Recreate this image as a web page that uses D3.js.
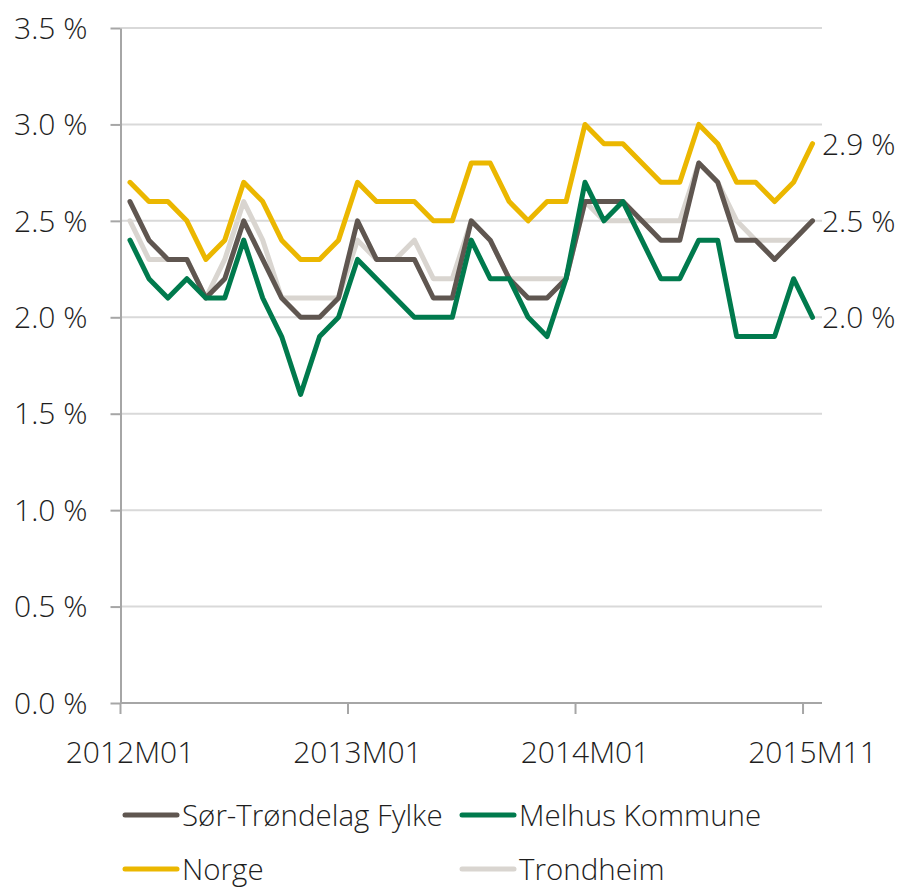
<!DOCTYPE html>
<html>
<head>
<meta charset="utf-8">
<script src="https://cdn.jsdelivr.net/npm/d3@7"></script>
<style>
  body { margin: 0; background: #fff; }
  text { font-family: "Open Sans", sans-serif; font-weight: 300; fill: #1e1e1e; }
</style>
</head>
<body>
<svg width="899" height="889"></svg>
<script>
// months shown, tick labels at every 12th month
const months = d3.range(37);
const tickIdx = [0, 12, 24, 36];
const tickLabels = ["2012M01", "2013M01", "2014M01", "2015M11"];
const yTicks = [0, 0.5, 1, 1.5, 2, 2.5, 3, 3.5];

const sorTrondelag = [2.6,2.4,2.3,2.3,2.1,2.2,2.5,2.3,2.1,2.0,2.0,2.1,
  2.5,2.3,2.3,2.3,2.1,2.1,2.5,2.4,2.2,2.1,2.1,2.2,
  2.6,2.6,2.6,2.5,2.4,2.4,2.8,2.7,2.4,2.4,2.3,2.4,2.5];
const melhus = [2.4,2.2,2.1,2.2,2.1,2.1,2.4,2.1,1.9,1.6,1.9,2.0,
  2.3,2.2,2.1,2.0,2.0,2.0,2.4,2.2,2.2,2.0,1.9,2.2,
  2.7,2.5,2.6,2.4,2.2,2.2,2.4,2.4,1.9,1.9,1.9,2.2,2.0];
const norge = [2.7,2.6,2.6,2.5,2.3,2.4,2.7,2.6,2.4,2.3,2.3,2.4,
  2.7,2.6,2.6,2.6,2.5,2.5,2.8,2.8,2.6,2.5,2.6,2.6,
  3.0,2.9,2.9,2.8,2.7,2.7,3.0,2.9,2.7,2.7,2.6,2.7,2.9];
const trondheim = [2.5,2.3,2.3,2.3,2.1,2.3,2.6,2.4,2.1,2.1,2.1,2.1,
  2.4,2.3,2.3,2.4,2.2,2.2,2.5,2.4,2.2,2.2,2.2,2.2,
  2.6,2.5,2.5,2.5,2.5,2.5,2.8,2.7,2.5,2.4,2.4,2.4,2.5];

const series = [
  { name: "Trondheim", values: trondheim, color: "#d9d5d0" },
  { name: "Sør-Trøndelag Fylke", values: sorTrondelag, color: "#5f5650" },
  { name: "Melhus Kommune", values: melhus, color: "#007a4d" },
  { name: "Norge", values: norge, color: "#ebb700" }
];
const endLabeled = ["Norge", "Trondheim", "Melhus Kommune"];

const svg = d3.select("svg");
const plotLeft = 120.5, plotRight = 822, plotTop = 28, plotBottom = 703;
const fs = 30;

const x = d3.scaleBand().domain(months).range([plotLeft, plotRight]);
const y = d3.scaleLinear().domain([0, 3.5]).range([plotBottom, plotTop]);

// gridlines
svg.append("g").selectAll("line")
  .data(yTicks.filter(d => d > 0))
  .enter().append("line")
  .attr("x1", plotLeft).attr("x2", plotRight)
  .attr("y1", d => y(d)).attr("y2", d => y(d))
  .attr("stroke", "#d9d9d9").attr("stroke-width", 2);

// y axis
const yAxis = d3.axisLeft(y).tickValues(yTicks).tickSize(10).tickSizeOuter(0)
  .tickFormat(d => d3.format(".1f")(d) + " %");
const gy = svg.append("g").attr("transform", `translate(${plotLeft},0)`).call(yAxis);
gy.select(".domain").attr("stroke", "#a6a6a6").attr("stroke-width", 2);
gy.selectAll(".tick line").attr("stroke", "#a6a6a6").attr("stroke-width", 2);
gy.selectAll(".tick text").attr("x", -33).attr("dy", "0.34em").attr("font-size", fs)
  .style("font-family", "Open Sans").style("font-weight", 300).attr("fill", "#1e1e1e");

// x axis
const gx = svg.append("g");
gx.append("line").attr("x1", plotLeft).attr("x2", plotRight)
  .attr("y1", plotBottom).attr("y2", plotBottom)
  .attr("stroke", "#a6a6a6").attr("stroke-width", 2);
gx.selectAll(".xt").data(tickIdx).enter().append("line")
  .attr("x1", d => x(d)).attr("x2", d => x(d))
  .attr("y1", plotBottom).attr("y2", plotBottom + 11)
  .attr("stroke", "#a6a6a6").attr("stroke-width", 2);
gx.selectAll(".xl").data(tickIdx).enter().append("text")
  .attr("x", d => x(d) + x.bandwidth() / 2)
  .attr("y", 763)
  .attr("text-anchor", "middle")
  .attr("font-size", fs)
  .text((d, i) => tickLabels[i]);

// lines
const line = d3.line()
  .x((d, i) => x(months[i]) + x.bandwidth() / 2)
  .y(d => y(d));

svg.append("g").selectAll("path")
  .data(series)
  .enter().append("path")
  .attr("d", d => line(d.values))
  .attr("fill", "none")
  .attr("stroke", d => d.color)
  .attr("stroke-width", 5)
  .attr("stroke-linejoin", "round")
  .attr("stroke-linecap", "round");

// end labels
const last = months.length - 1;
svg.append("g").selectAll("text")
  .data(series.filter(s => endLabeled.includes(s.name)))
  .enter().append("text")
  .attr("x", 822)
  .attr("y", d => y(d.values[last]) + 11)
  .attr("font-size", fs)
  .text(d => d3.format(".1f")(d.values[last]) + " %");

// legend
const legendItems = [
  { s: series[1], x: 121, y: 815 },
  { s: series[2], x: 458, y: 815 },
  { s: series[3], x: 121, y: 869 },
  { s: series[0], x: 458, y: 869 }
];
const lg = svg.append("g").selectAll("g").data(legendItems).enter().append("g")
  .attr("transform", d => `translate(${d.x},${d.y})`);
lg.append("line").attr("x1", 4).attr("x2", 56)
  .attr("stroke", d => d.s.color).attr("stroke-width", 5)
  .attr("stroke-linecap", "round");
lg.append("text").attr("x", 61).attr("y", 11)
  .attr("font-size", 29.5)
  .text(d => d.s.name);
</script>
</body>
</html>
